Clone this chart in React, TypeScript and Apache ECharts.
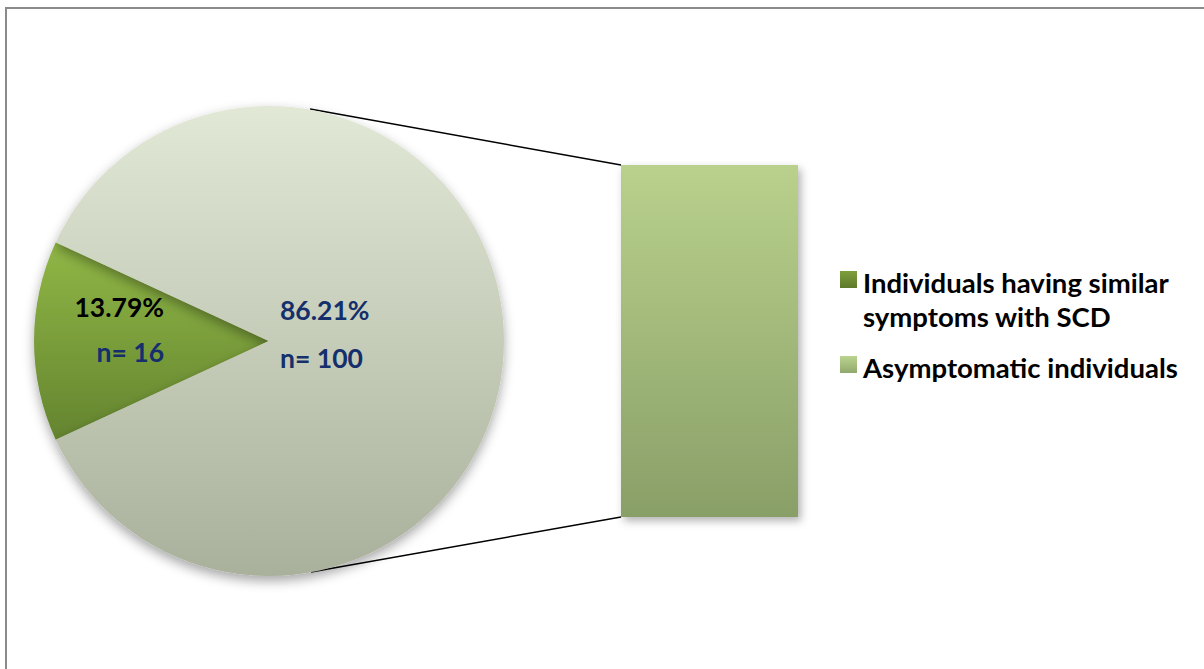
import React, { useEffect, useRef } from "react";
import * as echarts from "echarts";

const categories = ["Individuals having similar symptoms with SCD", "Asymptomatic individuals"];
const legendLines = [["Individuals having similar", "symptoms with SCD"], ["Asymptomatic individuals"]];
const counts = [16, 100];
const barValues = [100];

const FONT = "Lato";
const NAVY = "#142f6b";

export default function App() {
  const ref = useRef<HTMLDivElement>(null);
  useEffect(() => {
    if (!ref.current) return;
    const chart = echarts.init(ref.current, null, { renderer: "svg" });

    const grad = (a: string, b: string) =>
      new echarts.graphic.LinearGradient(0, 0, 0, 1, [
        { offset: 0, color: a },
        { offset: 1, color: b },
      ]);

    const sliceColors = [grad("#90b746", "#64842f"), grad("#e1e8d6", "#a9b19c")];
    const legendColors = [grad("#7e9f3c", "#5d7a2b"), grad("#bcd490", "#90a86c")];

    const total = counts.reduce((s, v) => s + v, 0);
    const smallAngle = (counts[0] / total) * 360;

    const legendGraphics: any[] = [];
    let ly = 268;
    legendLines.forEach((lines, i) => {
      legendGraphics.push({
        type: "rect",
        shape: { x: 840, y: ly + 3, width: 17, height: 17 },
        style: { fill: legendColors[i] },
      });
      lines.forEach((t, j) => {
        legendGraphics.push({
          type: "text",
          x: 863,
          y: ly + j * 34,
          style: {
            text: t,
            font: `bold 27.5px ${FONT}`,
            fill: "#000",
            textVerticalAlign: "top",
          },
        });
      });
      ly += lines.length * 34 + 17;
    });

    const rich = (color: string, align: string, lh: number) => ({
      fontFamily: FONT,
      fontWeight: "bold",
      fontSize: 26.5,
      color,
      align,
      lineHeight: lh,
    });

    chart.setOption({
      animation: false,
      backgroundColor: "#fff",
      grid: { left: 621, top: 165, width: 177, height: 352 },
      xAxis: { type: "category", data: [categories[1]], show: false },
      yAxis: { type: "value", min: 0, max: 100, show: false },
      graphic: [
        {
          type: "rect",
          shape: { x: 6, y: 8, width: 1400, height: 900 },
          style: { fill: "none", stroke: "#8a8a8a", lineWidth: 2 },
          z: 100,
        },
        {
          type: "line",
          shape: { x1: 310, y1: 109, x2: 621, y2: 165 },
          style: { stroke: "#000", lineWidth: 1.5 },
        },
        {
          type: "line",
          shape: { x1: 311, y1: 572, x2: 621, y2: 517 },
          style: { stroke: "#000", lineWidth: 1.5 },
        },
        ...legendGraphics,
      ],
      series: [
        {
          type: "pie",
          center: [269, 341],
          radius: 235,
          startAngle: 180 + smallAngle / 2,
          clockwise: true,
          percentPrecision: 2,
          avoidLabelOverlap: false,
          emphasis: { disabled: true },
          itemStyle: {
            shadowBlur: 12,
            shadowOffsetY: 5,
            shadowColor: "rgba(0,0,0,0.35)",
          },
          label: {
            show: true,
            position: "inside",
            formatter: (p: any) =>
              p.dataIndex === 0
                ? `{kR|${p.percent.toFixed(2)}%}\n{nR|n= ${p.value}}`
                : `{nL|${p.percent.toFixed(2)}%}\n{nL|n= ${p.value}}`,
            rich: {
              kR: rich("#000", "right", 45),
              nR: rich(NAVY, "right", 45),
              nL: rich(NAVY, "left", 48),
            },
          },
          labelLine: { show: false },
          labelLayout: (p: any) =>
            p.dataIndex === 0
              ? { x: 164, y: 329, align: "right", verticalAlign: "middle" }
              : { x: 280, y: 334, align: "left", verticalAlign: "middle" },
          data: counts.map((v, i) => ({
            name: categories[i],
            value: v,
            itemStyle: { color: sliceColors[i] },
          })),
        },
        {
          type: "bar",
          name: categories[1],
          data: barValues,
          barWidth: "100%",
          itemStyle: {
            color: grad("#b9d18c", "#899f68"),
            shadowBlur: 8,
            shadowOffsetX: 3,
            shadowOffsetY: 4,
            shadowColor: "rgba(0,0,0,0.3)",
          },
          emphasis: { disabled: true },
        },
      ],
    });
    return () => chart.dispose();
  }, []);
  return (
    <div
      ref={ref}
      style={{ position: "absolute", left: 0, top: 0, width: 1204, height: 669 }}
    />
  );
}
